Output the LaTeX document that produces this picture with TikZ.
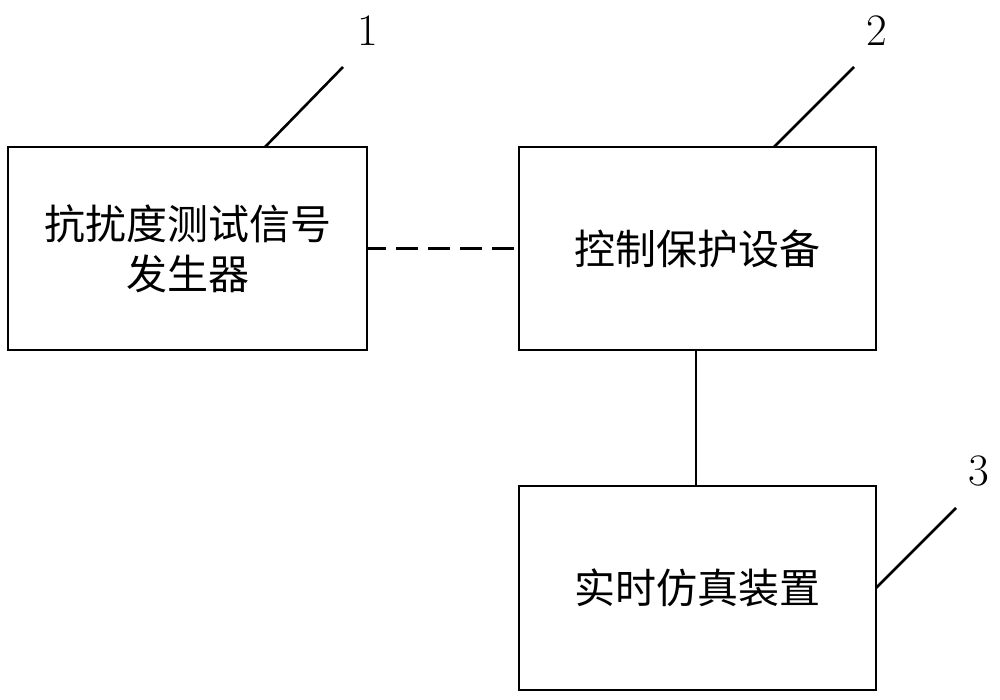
\documentclass[tikz,border=0pt]{standalone}
\usepackage{fontspec}
\newfontfamily\cjk{Noto Sans CJK SC}
\begin{document}
\begin{tikzpicture}[x=1pt,y=-1pt,
  box/.style={draw,line width=2.4pt,rectangle,inner sep=0pt,align=center,
    font=\cjk\fontsize{41}{50}\selectfont},
  leader/.style={line width=2.6pt},
  num/.style={font=\fontsize{45}{48}\selectfont,inner sep=0pt}]
\useasboundingbox (0,0) rectangle (1000,700);
\node[box,minimum width=359pt,minimum height=203pt] (b1) at (187.5,248.5) {抗扰度测试信号\\发生器};
\node[box,minimum width=357pt,minimum height=203pt] (b2) at (697.5,248.5) {控制保护设备};
\node[box,minimum width=357pt,minimum height=204pt] (b3) at (697.5,588) {实时仿真装置};
\draw[line width=2.2pt,dash pattern=on 22pt off 10pt,dash phase=4pt] (b1.east) -- (b2.west);
\draw[line width=2pt] (b2.south -| 696,0) -- (b3.north -| 696,0);
\coordinate (s1) at (265,147);
\coordinate (e1) at (343,67);
\coordinate (s2) at (774,147);
\coordinate (e2) at (854,67);
\coordinate (s3) at (876,588);
\coordinate (e3) at (956,508);
\draw[leader] (s1) -- (e1);
\draw[leader] (s2) -- (e2);
\draw[leader] (s3) -- (e3);
\node[num] (n1) at (368,31) {1};
\node[num] (n2) at (877,31) {2};
\node[num] (n3) at (979,471) {3};
\end{tikzpicture}
\end{document}
